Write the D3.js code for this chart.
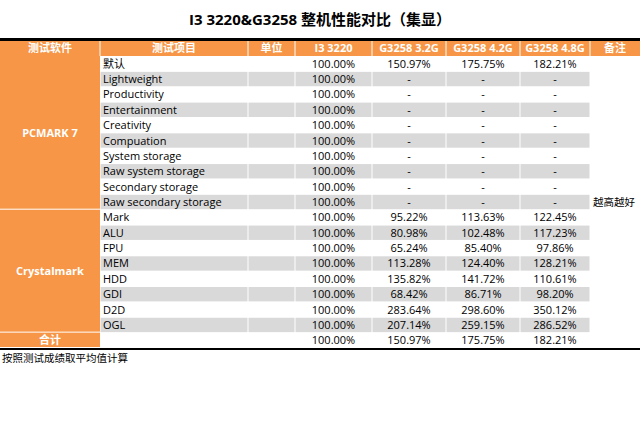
<!DOCTYPE html>
<html><head><meta charset="utf-8">
<script src="https://cdn.jsdelivr.net/npm/d3@7"></script>
<style>body{margin:0;background:#fff;font-family:"Open Sans","Noto Sans CJK SC",sans-serif}</style>
</head><body>
<svg id="chart" width="640" height="445"></svg>
<script>
const title = "I3 3220&G3258 整机性能对比（集显）";
const headers = ["测试软件", "测试项目", "单位", "I3 3220", "G3258  3.2G", "G3258 4.2G", "G3258 4.8G", "备注"];
const items = ["默认", "Lightweight", "Productivity", "Entertainment", "Creativity", "Compuation",
  "System storage", "Raw system storage", "Secondary storage", "Raw secondary storage",
  "Mark", "ALU", "FPU", "MEM", "HDD", "GDI", "D2D", "OGL", "合计"];
const i3 = items.map(() => "100.00%");
const g32 = ["150.97%", "-", "-", "-", "-", "-", "-", "-", "-", "-",
  "95.22%", "80.98%", "65.24%", "113.28%", "135.82%", "68.42%", "283.64%", "207.14%", "150.97%"];
const g42 = ["175.75%", "-", "-", "-", "-", "-", "-", "-", "-", "-",
  "113.63%", "102.48%", "85.40%", "124.40%", "141.72%", "86.71%", "298.60%", "259.15%", "175.75%"];
const g48 = ["182.21%", "-", "-", "-", "-", "-", "-", "-", "-", "-",
  "122.45%", "117.23%", "97.86%", "128.21%", "110.61%", "98.20%", "350.12%", "286.52%", "182.21%"];
const groups = [{name: "PCMARK 7", from: 0, to: 9}, {name: "Crystalmark", from: 10, to: 17}, {name: "合计", from: 18, to: 18}];
const note = "越高越好";
const footer = "按照测试成绩取平均值计算";

const colEdges = [0, 100, 248, 295, 372, 446, 520, 590, 640];
const orange = "#f79646", gray = "#d9d9d9";
const svg = d3.select("#chart");

const y = d3.scaleBand().domain(d3.range(items.length)).range([56, 348]);
const x = i => colEdges[i];
const w = i => colEdges[i + 1] - colEdges[i];

svg.append("text").attr("x", 320).attr("y", 25).attr("text-anchor", "middle")
  .style("font-size", "15px").style("font-weight", "bold").text(title);

svg.append("rect").attr("x", 0).attr("y", 38).attr("width", 640).attr("height", 3).attr("fill", "#000");
svg.append("rect").attr("x", 0).attr("y", 41).attr("width", 640).attr("height", 15).attr("fill", orange);
headers.forEach((h, i) => {
  if (i > 0) svg.append("line").attr("x1", x(i)).attr("x2", x(i)).attr("y1", 41).attr("y2", 56).attr("stroke", "#fff");
  svg.append("text").attr("x", x(i) + w(i) / 2).attr("y", 52).attr("text-anchor", "middle")
    .attr("fill", "#fff").style("font-size", "11px").style("font-weight", "bold").text(h);
});

// alternating gray rows
items.forEach((d, r) => {
  if (r % 2 === 1 && r < 18) {
    for (let c = 1; c <= 6; c++) {
      svg.append("rect").attr("x", x(c) + 0.5).attr("y", y(r) + 0.5)
        .attr("width", w(c) - 1).attr("height", y.bandwidth() - 1).attr("fill", gray);
    }
  }
});

groups.forEach(g => {
  const y0 = y(g.from), y1 = y(g.to) + y.bandwidth();
  svg.append("rect").attr("x", 0).attr("y", y0).attr("width", 100).attr("height", y1 - y0 - 1).attr("fill", orange);
  svg.append("text").attr("x", 50).attr("y", (y0 + y1) / 2 + 4).attr("text-anchor", "middle")
    .attr("fill", "#fff").style("font-size", "11px").style("font-weight", "bold").text(g.name);
});

const cols = [i3, g32, g42, g48];
items.forEach((d, r) => {
  const ty = y(r) + y.bandwidth() / 2 + 4;
  if (r < 18) svg.append("text").attr("x", x(1) + 3).attr("y", ty).style("font-size", "11px").attr("fill", "#000").text(d);
  cols.forEach((arr, k) => {
    const c = k + 3;
    svg.append("text").attr("x", x(c) + w(c) / 2).attr("y", ty).attr("text-anchor", "middle")
      .style("font-size", "11px").attr("fill", "#000").text(arr[r]);
  });
});
svg.append("text").attr("x", 593).attr("y", y(9) + y.bandwidth() / 2 + 4).style("font-size", "10.5px").text(note);

svg.append("rect").attr("x", 0).attr("y", 348).attr("width", 640).attr("height", 2).attr("fill", "#000");
svg.append("text").attr("x", 2).attr("y", 362).style("font-size", "10.5px").text(footer);
</script>
</body></html>
